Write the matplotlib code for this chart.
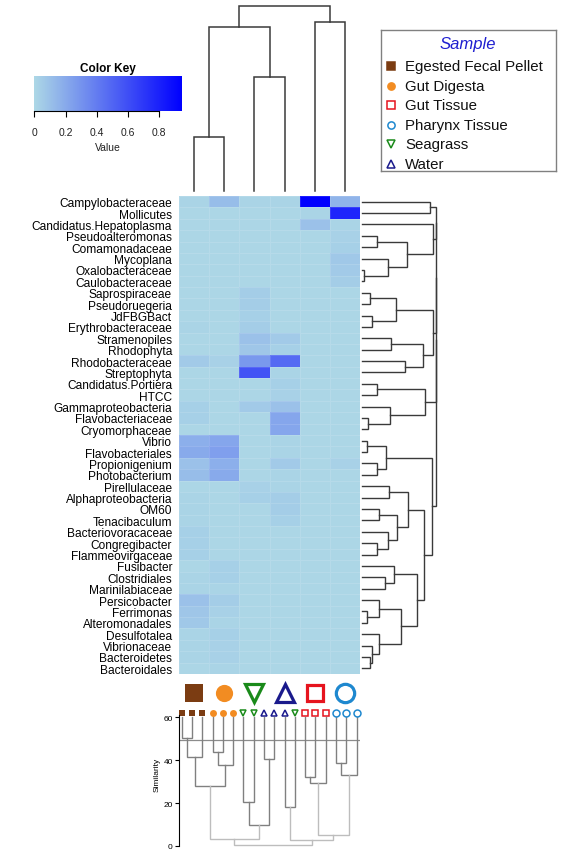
import numpy as np
import matplotlib
matplotlib.use("Agg")
import matplotlib.pyplot as plt
from matplotlib.colors import LinearSegmentedColormap

plt.rcParams["font.family"] = ["Liberation Sans", "DejaVu Sans"]

# -----------------------------
# Data
# -----------------------------
taxa = [
    "Campylobacteraceae", "Mollicutes", "Candidatus.Hepatoplasma", "Pseudoalteromonas",
    "Comamonadaceae", "Mycoplana", "Oxalobacteraceae", "Caulobacteraceae",
    "Saprospiraceae", "Pseudoruegeria", "JdFBGBact", "Erythrobacteraceae",
    "Stramenopiles", "Rhodophyta", "Rhodobacteraceae", "Streptophyta",
    "Candidatus.Portiera", "HTCC", "Gammaproteobacteria", "Flavobacteriaceae",
    "Cryomorphaceae", "Vibrio", "Flavobacteriales", "Propionigenium",
    "Photobacterium", "Pirellulaceae", "Alphaproteobacteria", "OM60",
    "Tenacibaculum", "Bacteriovoracaceae", "Congregibacter", "Flammeovirgaceae",
    "Fusibacter", "Clostridiales", "Marinilabiaceae", "Persicobacter",
    "Ferrimonas", "Alteromonadales", "Desulfotalea", "Vibrionaceae",
    "Bacteroidetes", "Bacteroidales",
]

# heatmap columns (left to right)
columns = ["EFP", "GD", "SG", "W", "GT", "PT"]

values = [
    [0.02, 0.12, 0.02, 0.02, 0.94, 0.16],
    [0.01, 0.01, 0.01, 0.01, 0.02, 0.78],
    [0.01, 0.01, 0.01, 0.01, 0.10, 0.02],
    [0.01, 0.01, 0.01, 0.01, 0.01, 0.03],
    [0.01, 0.01, 0.01, 0.01, 0.01, 0.04],
    [0.01, 0.01, 0.01, 0.01, 0.01, 0.07],
    [0.01, 0.01, 0.01, 0.01, 0.01, 0.06],
    [0.01, 0.01, 0.01, 0.01, 0.01, 0.05],
    [0.01, 0.01, 0.05, 0.01, 0.01, 0.01],
    [0.01, 0.01, 0.05, 0.01, 0.01, 0.01],
    [0.01, 0.01, 0.04, 0.01, 0.01, 0.01],
    [0.02, 0.01, 0.05, 0.01, 0.01, 0.01],
    [0.01, 0.01, 0.10, 0.06, 0.01, 0.01],
    [0.01, 0.01, 0.08, 0.04, 0.01, 0.01],
    [0.06, 0.03, 0.28, 0.48, 0.01, 0.01],
    [0.01, 0.01, 0.58, 0.02, 0.01, 0.01],
    [0.01, 0.01, 0.01, 0.04, 0.01, 0.01],
    [0.01, 0.01, 0.01, 0.03, 0.01, 0.01],
    [0.04, 0.01, 0.06, 0.10, 0.01, 0.01],
    [0.04, 0.01, 0.01, 0.22, 0.01, 0.01],
    [0.01, 0.01, 0.01, 0.22, 0.01, 0.01],
    [0.18, 0.22, 0.01, 0.02, 0.01, 0.01],
    [0.20, 0.25, 0.01, 0.02, 0.01, 0.01],
    [0.10, 0.18, 0.01, 0.06, 0.01, 0.03],
    [0.12, 0.20, 0.01, 0.02, 0.01, 0.01],
    [0.01, 0.01, 0.03, 0.02, 0.01, 0.01],
    [0.02, 0.01, 0.04, 0.05, 0.01, 0.01],
    [0.02, 0.01, 0.01, 0.05, 0.01, 0.01],
    [0.02, 0.01, 0.01, 0.04, 0.01, 0.01],
    [0.04, 0.01, 0.01, 0.01, 0.01, 0.01],
    [0.04, 0.01, 0.01, 0.01, 0.01, 0.01],
    [0.04, 0.01, 0.01, 0.01, 0.01, 0.01],
    [0.01, 0.04, 0.01, 0.01, 0.01, 0.01],
    [0.02, 0.04, 0.01, 0.01, 0.01, 0.01],
    [0.02, 0.02, 0.01, 0.01, 0.01, 0.01],
    [0.10, 0.05, 0.01, 0.01, 0.01, 0.01],
    [0.08, 0.03, 0.01, 0.01, 0.01, 0.01],
    [0.07, 0.02, 0.01, 0.01, 0.01, 0.01],
    [0.02, 0.04, 0.01, 0.01, 0.01, 0.01],
    [0.02, 0.03, 0.01, 0.01, 0.01, 0.01],
    [0.02, 0.03, 0.01, 0.01, 0.01, 0.01],
    [0.01, 0.02, 0.01, 0.01, 0.01, 0.01],
]
vmax = 0.943

# dendrograms as nested (left, right, height) tuples; ints are leaves
col_tree = (((0, 1, 54), (2, 3, 114), 164), (4, 5, 169), 185)

row_a = (0, 1, 203)
row_b = (2, ((3, 4, 45), (5, (6, 7, 6), 78), 136), 213)
row_c = (((8, 9, 25), (10, 11, 31), 103), ((12, 13, 86), (14, 15, 128), 183), 213)
row_d = ((16, 17, 45), (18, (19, 20, 18), 83), 188)
row_e1 = ((21, 22, 16), (23, 24, 46), 71)
row_e2 = ((25, 26, 81), ((27, 28, 51), (29, (30, 31, 45), 78), 106), 138)
row_e3 = ((32, (33, 34, 70), 96),
          ((35, (36, 37, 16), 51), (38, (39, (40, 41, 23), 31), 51), 116), 166)
row_e = (row_e1, (row_e2, row_e3, 186), 210)
row_tree = ((((row_a, row_b, 221), row_c, 221.7), row_d, 222.4), row_e, 223)

# sample similarity cluster (18 samples)
sample_leaves = ["EFP", "EFP", "EFP", "GD", "GD", "GD", "SG", "SG", "W", "W",
                 "W", "SG", "GT", "GT", "GT", "PT", "PT", "PT"]
sim_tree = (
    ((((0, 1, 50.4), 2, 41.3), ((3, 4, 43.6), 5, 37.5), 27.9),
     ((6, 7, 20.7), (8, 9, 40.4), 9.95), 3.4),
    ((10, 11, 18.2),
     ((((12, 13, 32.0), 14, 29.2)), ((15, 16, 38.7), 17, 33.2), 4.9), 2.9),
    0.6,
)
sim_cut = 49.5

legend_order = ["EFP", "GD", "GT", "PT", "SG", "W"]
names = {"EFP": "Egested Fecal Pellet", "GD": "Gut Digesta", "GT": "Gut Tissue",
         "PT": "Pharynx Tissue", "SG": "Seagrass", "W": "Water"}
marker = {"EFP": "s", "GD": "o", "GT": "s", "PT": "o", "SG": "v", "W": "^"}
color = {"EFP": "#7b3c12", "GD": "#f28c22", "GT": "#e6141e", "PT": "#1e88cf",
         "SG": "#1a8a1a", "W": "#1a1a8c"}
filled = {"EFP": True, "GD": True, "GT": False, "PT": False, "SG": False, "W": False}

# -----------------------------
# Layout helpers
# -----------------------------
W, H = 564, 853
fig = plt.figure(figsize=(W / 100, H / 100), dpi=100)


def px_axes(x0, y0, x1, y1):
    a = fig.add_axes([x0 / W, 1 - y1 / H, (x1 - x0) / W, (y1 - y0) / H])
    a.patch.set_visible(False)
    return a


def draw_tree(ax, node, leaf_pos, leaf_h, vertical=True, col_fn=None, lw=1.0):
    if isinstance(node, int):
        return leaf_pos(node), leaf_h
    left, right, h = node
    lp, lh = draw_tree(ax, left, leaf_pos, leaf_h, vertical, col_fn, lw)
    rp, rh = draw_tree(ax, right, leaf_pos, leaf_h, vertical, col_fn, lw)
    c = col_fn(h) if col_fn else "#3a3a3a"
    if vertical:
        ax.plot([lp, lp, rp, rp], [lh, h, h, rh], color=c, lw=lw,
                solid_joinstyle="miter", clip_on=False)
    else:
        ax.plot([lh, h, h, rh], [lp, lp, rp, rp], color=c, lw=lw,
                solid_joinstyle="miter", clip_on=False)
    return (lp + rp) / 2, h


cmap = LinearSegmentedColormap.from_list("key", ["#ADD8E6", "#0000FF"])

# -----------------------------
# Heatmap
# -----------------------------
hx0, hx1, hy0, hy1 = 179, 360, 197, 675
ax = px_axes(hx0, hy0, hx1, hy1)
vals = np.array(values)
ax.pcolormesh(np.arange(len(columns) + 1), np.arange(len(taxa) + 1), vals,
              cmap=cmap, vmin=0, vmax=vmax,
              edgecolors=(1, 1, 1, 0.12), linewidth=0.5)
ax.set_xlim(0, len(columns))
ax.set_ylim(len(taxa), 0)
ax.set_xticks([])
ax.set_yticks(np.arange(len(taxa)) + 0.5)
ax.set_yticklabels(taxa, fontsize=8.6)
ax.tick_params(axis="y", length=0, pad=5)
for s in ax.spines.values():
    s.set_visible(False)

# column dendrogram
axt = px_axes(hx0, 0, hx1, hy0)
draw_tree(axt, col_tree, lambda i: i + 0.5, 0, vertical=True, lw=1.1)
axt.set_xlim(0, len(columns))
axt.set_ylim(-5, 192)
axt.axis("off")

# row dendrogram
axr = px_axes(hx1, hy0, 440, hy1)
draw_tree(axr, row_tree, lambda i: i + 0.5, 0, vertical=False, lw=1.0)
axr.set_xlim(-6, 234)
axr.set_ylim(len(taxa), 0)
axr.axis("off")

# -----------------------------
# Color key
# -----------------------------
axk = px_axes(34.3, 77.3, 181.7, 112.3)
axk.imshow(np.linspace(0, vmax, 256)[None, :], cmap=cmap, aspect="auto",
           extent=[0, vmax, 0, 1], vmin=0, vmax=vmax)
axk.set_xlim(0, vmax)
axk.set_yticks([])
axk.set_xticks([0, 0.2, 0.4, 0.6, 0.8])
axk.set_xticklabels(["0", "0.2", "0.4", "0.6", "0.8"], fontsize=7.5, color="#222222")
axk.tick_params(axis="x", length=4, width=0.8, pad=7)
for k in ["top", "right", "left"]:
    axk.spines[k].set_visible(False)
axk.spines["bottom"].set_bounds(0, 0.8)
axk.spines["bottom"].set_linewidth(0.8)
axk.set_title("Color Key", fontsize=8.5, fontweight="bold", pad=4)
axk.set_xlabel("Value", fontsize=7.5, labelpad=4, color="#222222")

# -----------------------------
# Legend
# -----------------------------
axl = px_axes(381, 31, 556, 172)
axl.set_xlim(381, 556)
axl.set_ylim(172, 31)
axl.set_xticks([])
axl.set_yticks([])
for s in axl.spines.values():
    s.set_color("#808080")
    s.set_linewidth(1.0)
axl.text(468, 44.5, "Sample", fontsize=12, style="italic", color="#1f1fd0",
         ha="center", va="center")
for k, key in enumerate(legend_order):
    y = 67 + k * 19.6
    fc = color[key] if filled[key] else "none"
    axl.plot(391, y, marker=marker[key], ms=5.2, mfc=fc, mec=color[key], mew=1.1)
    axl.text(405, y, names[key], fontsize=10.8, va="center", color="#111111")

# -----------------------------
# Similarity dendrogram
# -----------------------------
axd = px_axes(179, 703, 360, 847)
axd.axhline(sim_cut, color="#8c8c8c", lw=0.9)
draw_tree(axd, sim_tree, lambda i: i, 60, vertical=True, lw=1.0,
          col_fn=lambda h: "#bdbdbd" if h < 6 else "#808080")
for i, key in enumerate(sample_leaves):
    fc = color[key] if filled[key] else "none"
    axd.plot(i, 62, marker=marker[key], ms=5.0, mfc=fc, mec=color[key],
             mew=0 if filled[key] else 1.1, clip_on=False)
axd.set_xlim(-0.262, 17.33)
axd.set_ylim(0, 67)
axd.set_xticks([])
axd.set_yticks([0, 20, 40, 60])
axd.tick_params(axis="y", labelsize=6, length=3, width=0.8, pad=1.5)
axd.set_ylabel("Similarity", fontsize=6, labelpad=2)
for k in ["top", "right", "bottom"]:
    axd.spines[k].set_visible(False)
axd.spines["left"].set_bounds(0, 61)
axd.spines["left"].set_linewidth(0.8)

# -----------------------------
# Big sample symbols under heatmap
# -----------------------------
axs = px_axes(hx0, 680, hx1, 707)
big_ms = {"EFP": 12.7, "GD": 12.4, "SG": 13.5, "W": 13.0, "GT": 11.0, "PT": 13.2}
for i, key in enumerate(columns):
    fc = color[key] if filled[key] else "none"
    axs.plot(i + 0.5, 0.5, marker=marker[key], ms=big_ms[key], mfc=fc,
             mec=color[key], mew=0 if filled[key] else 2.3, clip_on=False)
axs.set_xlim(0, len(columns))
axs.set_ylim(0, 1)
axs.axis("off")

fig.savefig("out.png", dpi=100)
